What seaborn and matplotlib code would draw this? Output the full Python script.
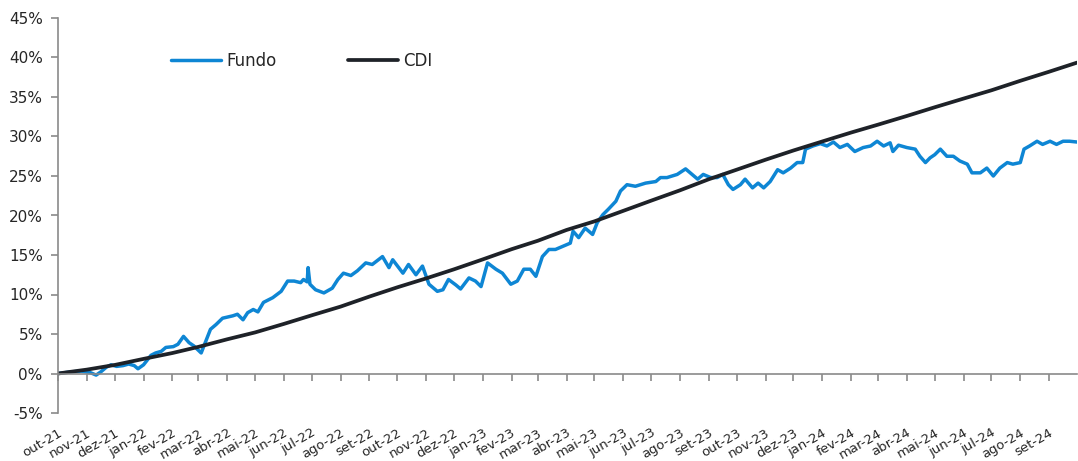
import numpy as np
import pandas as pd
import matplotlib
matplotlib.use('Agg')
import matplotlib.pyplot as plt
import seaborn as sns

# ---------------- data ----------------
inicio = '2021-10-01'
fim = '2024-10-01'

# Fundo: days since inception and cumulative return (%)
fundo_dia = [0, 14, 25, 35, 41, 46, 52, 57, 63, 70, 76, 82, 86, 92, 100, 105, 111, 116,
             124, 129, 135, 141, 146, 154, 159, 164, 170, 177, 188, 193, 199, 204, 210,
             215, 221, 231, 240, 247, 254, 261, 264, 268, 269, 271, 277, 286, 295, 301,
             307, 315, 322, 331, 338, 349, 356, 360, 371, 377, 385, 392, 399, 408, 414,
             420, 428, 433, 442, 449, 455, 462, 471, 478, 487, 494, 501, 508, 514, 521,
             528, 535, 543, 551, 554, 560, 567, 575, 580, 586, 592, 600, 605, 612, 621,
             632, 643, 648, 655, 666, 675, 682, 688, 694, 702, 709, 715, 721, 726, 734,
             739, 747, 753, 759, 766, 774, 780, 788, 795, 801, 804, 812, 820, 827, 834,
             841, 849, 857, 866, 874, 881, 888, 895, 898, 904, 913, 922, 927, 933, 938,
             943, 949, 956, 963, 970, 978, 983, 992, 999, 1006, 1013, 1021, 1027, 1035,
             1039, 1045, 1053, 1059, 1067, 1074, 1081, 1088, 1096]
fundo_pct = [0.0, 0.2, 0.3, 0.1, -0.2, 0.2, 0.8, 1.1, 0.9, 1.0, 1.2, 1.0, 0.6, 1.1, 2.3, 2.6, 2.8, 3.3,
             3.4, 3.7, 4.7, 3.9, 3.5, 2.6, 4.1, 5.6, 6.2, 7.0, 7.3, 7.5, 6.8, 7.7, 8.1,
             7.8, 9.0, 9.6, 10.4, 11.7, 11.7, 11.5, 11.9, 11.6, 13.4, 11.3, 10.6, 10.2, 10.8, 11.9,
             12.7, 12.4, 13.0, 14.0, 13.8, 14.8, 13.4, 14.4, 12.7, 13.8, 12.5, 13.6, 11.3, 10.4, 10.6,
             11.9, 11.2, 10.7, 12.1, 11.7, 11.0, 14.0, 13.2, 12.7, 11.3, 11.7, 13.2, 13.2, 12.3, 14.8,
             15.7, 15.7, 16.1, 16.5, 18.0, 17.2, 18.4, 17.6, 19.1, 20.1, 20.8, 21.8, 23.1, 23.9, 23.7,
             24.1, 24.3, 24.8, 24.8, 25.2, 25.9, 25.2, 24.6, 25.2, 24.8, 24.8, 25.2, 23.9, 23.3, 23.9,
             24.6, 23.5, 24.1, 23.5, 24.3, 25.8, 25.4, 26.0, 26.7, 26.7, 28.4, 28.8, 29.1, 28.8, 29.3,
             28.6, 29.0, 28.1, 28.6, 28.8, 29.4, 28.8, 29.2, 28.1, 28.9, 28.6, 28.4, 27.5, 26.7, 27.3,
             27.7, 28.4, 27.5, 27.5, 26.9, 26.5, 25.4, 25.4, 26.0, 25.0, 26.0, 26.7, 26.5, 26.7,
             28.4, 28.8, 29.4, 29.0, 29.4, 29.0, 29.4, 29.4, 29.3]

# CDI: cumulative return (%) at the start of each month, out-21 .. out-24
cdi_pct = [0.0, 0.49, 1.08, 1.85, 2.59, 3.37, 4.33, 5.20, 6.28, 7.37, 8.47, 9.74,
           10.91, 12.04, 13.19, 14.45, 15.74, 16.80, 18.17, 19.26, 20.59, 21.88, 23.19, 24.59,
           25.80, 27.06, 28.23, 29.37, 30.50, 31.50, 32.60, 33.70, 34.80, 35.85, 37.05, 38.20,
           39.35]

meses_pt = ['jan', 'fev', 'mar', 'abr', 'mai', 'jun', 'jul', 'ago', 'set', 'out', 'nov', 'dez']
y_ticks = [-5, 0, 5, 10, 15, 20, 25, 30, 35, 40, 45]
cores = {'Fundo': '#0E86D4', 'CDI': '#1E2228'}

# ---------------- style ----------------
sns.set_theme(style='white')
plt.rcParams['font.family'] = ['DejaVu Sans']
plt.rcParams['text.color'] = '#262626'

t0 = pd.Timestamp(inicio)
df_f = pd.DataFrame({'data': t0 + pd.to_timedelta(fundo_dia, unit='D'),
                     'valor': fundo_pct})
df_c = pd.DataFrame({'data': pd.date_range(t0, periods=len(cdi_pct), freq='MS'),
                     'valor': cdi_pct})

fig = plt.figure(figsize=(10.78, 4.61), dpi=100)
ax = fig.add_axes([58 / 1078, 1 - 413 / 461, (1077 - 58) / 1078, (413 - 18) / 461])

sns.lineplot(data=df_f, x='data', y='valor', ax=ax, color=cores['Fundo'],
             linewidth=2.5, label='Fundo', estimator=None)
sns.lineplot(data=df_c, x='data', y='valor', ax=ax, color=cores['CDI'],
             linewidth=2.7, label='CDI', estimator=None)

ax.set_xlim(t0, pd.Timestamp(fim))
ax.set_ylim(y_ticks[0], y_ticks[-1])
ax.set_xlabel('')
ax.set_ylabel('')

# y axis
ax.set_yticks(y_ticks)
ax.set_yticklabels([f'{v}%' for v in y_ticks])

# x axis (monthly ticks)
tick_dates = pd.date_range(t0, periods=36, freq='MS')
ax.set_xticks(tick_dates)
ax.set_xticklabels([f'{meses_pt[d.month - 1]}-{d.year % 100:02d}' for d in tick_dates])

for s in ['top', 'right']:
    ax.spines[s].set_visible(False)
ax.spines['bottom'].set_position(('data', 0))
for s in ['left', 'bottom']:
    ax.spines[s].set_color('#8a8a8a')
    ax.spines[s].set_linewidth(1.2)

ax.tick_params(axis='y', which='major', left=True, length=5, width=1.2, color='#8a8a8a',
               labelsize=11, labelcolor='#262626', pad=6)
ax.tick_params(axis='x', which='major', bottom=True, length=5, width=1.2, color='#8a8a8a',
               labelsize=9.5, labelcolor='#262626', pad=33)
plt.setp(ax.get_xticklabels(), rotation=30, ha='right', rotation_mode='anchor')

ax.legend(ncol=2, frameon=False, loc='center left',
          bbox_to_anchor=(171 / 1078, 1 - 61 / 461), bbox_transform=fig.transFigure,
          handlelength=3.0, handletextpad=0.3, columnspacing=4.3, borderpad=0,
          borderaxespad=0, fontsize=12)

fig.savefig('out.png', dpi=100)
